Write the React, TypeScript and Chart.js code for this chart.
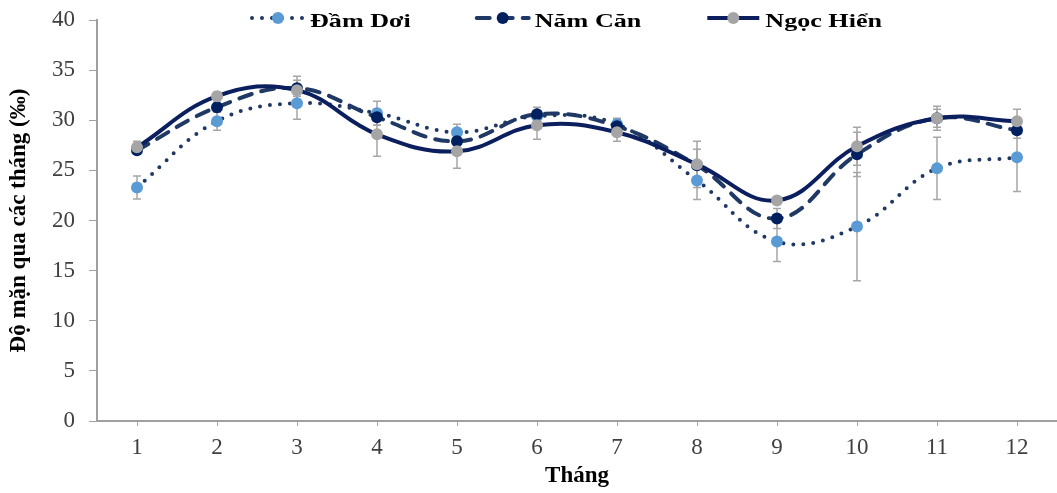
import React, { useEffect, useRef } from "react";
import { Chart, registerables } from "chart.js";

Chart.register(...registerables);

const months = ["1", "2", "3", "4", "5", "6", "7", "8", "9", "10", "11", "12"];
const seriesNames = ["Đầm Dơi", "Năm Căn", "Ngọc Hiển"];
const damDoi = [23.3, 29.9, 31.7, 30.7, 28.8, 30.4, 29.6, 24.0, 17.9, 19.4, 25.2, 26.3];
const damDoiErr = [1.15, 0.9, 1.6, 1.2, 0.8, 0.5, 0.5, 1.9, 2.0, 5.4, 3.1, 3.4];
const namCan = [27.0, 31.3, 33.2, 30.3, 27.9, 30.6, 29.4, 25.5, 20.2, 26.6, 30.2, 29.0];
const namCanErr = [0.4, 0.5, 0.8, 0.8, 0.6, 0.7, 0.8, 1.6, 1.0, 2.2, 0.9, 0.8];
const ngocHien = [27.3, 32.4, 33.0, 28.6, 26.9, 29.5, 28.8, 25.6, 22.0, 27.4, 30.2, 29.9];
const ngocHienErr = [0.6, 0.4, 1.4, 2.2, 1.7, 1.4, 0.9, 2.3, 0.3, 1.9, 1.2, 1.2];
const yTitle = "Độ mặn qua các tháng (‰)";
const xTitle = "Tháng";

const FONT = '"Liberation Serif", "Times New Roman", serif';

const errorBarPlugin = {
  id: "errorBars",
  beforeDatasetsDraw(chart: any) {
    const ctx = chart.ctx;
    const yScale = chart.scales.y;
    ctx.save();
    ctx.strokeStyle = "#a6a6a6";
    ctx.lineWidth = 1.5;
    chart.data.datasets.forEach((ds: any, i: number) => {
      const meta = chart.getDatasetMeta(i);
      const errs: number[] = ds.errors || [];
      meta.data.forEach((pt: any, j: number) => {
        const v = ds.data[j];
        const e = errs[j];
        if (e == null) return;
        const x = pt.x;
        const yt = yScale.getPixelForValue(v + e);
        const yb = yScale.getPixelForValue(v - e);
        ctx.beginPath();
        ctx.moveTo(x, yt);
        ctx.lineTo(x, yb);
        ctx.moveTo(x - 4, yt);
        ctx.lineTo(x + 4, yt);
        ctx.moveTo(x - 4, yb);
        ctx.lineTo(x + 4, yb);
        ctx.stroke();
      });
    });
    ctx.restore();
  },
};

const legendPlugin = {
  id: "lineLegend",
  afterDraw(chart: any) {
    const ctx = chart.ctx;
    const sx = 1.45;
    const symW = 52;
    const gapText = 6;
    const gapItem = 66;
    ctx.save();
    ctx.font = `bold 18px ${FONT}`;
    const items = chart.data.datasets.map((ds: any) => ({
      ds,
      w: ctx.measureText(ds.label).width * sx,
    }));
    const total =
      items.reduce((s: number, it: any) => s + symW + gapText + it.w, 0) +
      gapItem * (items.length - 1);
    const center = (chart.chartArea.left + chart.chartArea.right) / 2 - 10;
    let x = center - total / 2;
    const yS = 18;
    const yT = 27;
    for (const it of items) {
      const ds = it.ds;
      ctx.beginPath();
      ctx.setLineDash(ds.borderDash || []);
      ctx.lineCap = ds.borderCapStyle || "butt";
      ctx.strokeStyle = ds.borderColor;
      ctx.lineWidth = ds.borderWidth;
      ctx.moveTo(x, yS);
      ctx.lineTo(x + symW, yS);
      ctx.stroke();
      ctx.setLineDash([]);
      ctx.beginPath();
      ctx.arc(x + symW / 2, yS, 6, 0, Math.PI * 2);
      ctx.fillStyle = ds.pointBackgroundColor;
      ctx.fill();
      ctx.save();
      ctx.translate(x + symW + gapText, yT);
      ctx.scale(sx, 1);
      ctx.fillStyle = "#000";
      ctx.textBaseline = "alphabetic";
      ctx.fillText(ds.label, 0, 0);
      ctx.restore();
      x += symW + gapText + it.w + gapItem;
    }
    ctx.restore();
  },
};

export default function App() {
  const ref = useRef<HTMLCanvasElement>(null);
  useEffect(() => {
    document.body.style.margin = "0";
    const chart = new Chart(ref.current as HTMLCanvasElement, {
      type: "line",
      data: {
        labels: months,
        datasets: [
          {
            label: seriesNames[0],
            data: damDoi,
            errors: damDoiErr,
            borderColor: "#1f3864",
            borderWidth: 4,
            borderDash: [0, 10],
            borderCapStyle: "round",
            pointBackgroundColor: "#5b9bd5",
            pointBorderColor: "#5b9bd5",
            pointBorderWidth: 0,
            pointRadius: 6,
            tension: 0.4,
            order: 3,
          } as any,
          {
            label: seriesNames[1],
            data: namCan,
            errors: namCanErr,
            borderColor: "#1f3864",
            borderWidth: 4,
            borderDash: [13, 10],
            borderCapStyle: "round",
            pointBackgroundColor: "#002060",
            pointBorderColor: "#002060",
            pointBorderWidth: 0,
            pointRadius: 6,
            tension: 0.4,
            order: 2,
          } as any,
          {
            label: seriesNames[2],
            data: ngocHien,
            errors: ngocHienErr,
            borderColor: "#0b1f5e",
            borderWidth: 4,
            pointBackgroundColor: "#a5a5a5",
            pointBorderColor: "#a5a5a5",
            pointBorderWidth: 0,
            pointRadius: 6,
            tension: 0.4,
            order: 1,
          } as any,
        ],
      },
      options: {
        responsive: false,
        animation: false,
        layout: { autoPadding: false, padding: { top: 20, left: 0, right: 0, bottom: 0 } },
        plugins: {
          legend: { display: false },
          tooltip: { enabled: false },
        },
        scales: {
          x: {
            type: "category",
            offset: true,
            grid: {
              drawOnChartArea: false,
              drawTicks: true,
              tickLength: 5,
              color: "#a0a0a0",
              offset: false,
            },
            border: { display: true, color: "#a0a0a0", width: 2 },
            ticks: {
              color: "#404040",
              font: { family: FONT, size: 23 },
              padding: 8,
              maxRotation: 0,
              autoSkip: false,
            },
            title: {
              display: true,
              text: xTitle,
              color: "#000",
              font: { family: FONT, size: 23, weight: "bold" },
              padding: { top: 0, bottom: 3 },
            },
            afterFit: (s: any) => {
              s.height = 72;
              s.paddingLeft = 0;
              s.paddingRight = 0;
            },
          },
          y: {
            min: 0,
            max: 40,
            grid: {
              drawOnChartArea: false,
              drawTicks: true,
              tickLength: 8,
              color: "#a0a0a0",
            },
            border: { display: true, color: "#a0a0a0", width: 2 },
            ticks: {
              stepSize: 5,
              color: "#404040",
              font: { family: FONT, size: 23 },
              padding: 14,
            },
            title: {
              display: true,
              text: yTitle,
              color: "#000",
              font: { family: FONT, size: 23, weight: "bold" },
              padding: { top: 5, bottom: 0 },
            },
            afterFit: (s: any) => {
              s.width = 97;
              s.paddingTop = 0;
              s.paddingBottom = 0;
            },
          },
        },
      } as any,
      plugins: [errorBarPlugin, legendPlugin],
    });
    return () => chart.destroy();
  }, []);
  return (
    <div style={{ width: 1057, height: 493 }}>
      <canvas ref={ref} width={1057} height={493} style={{ display: "block" }} />
    </div>
  );
}
